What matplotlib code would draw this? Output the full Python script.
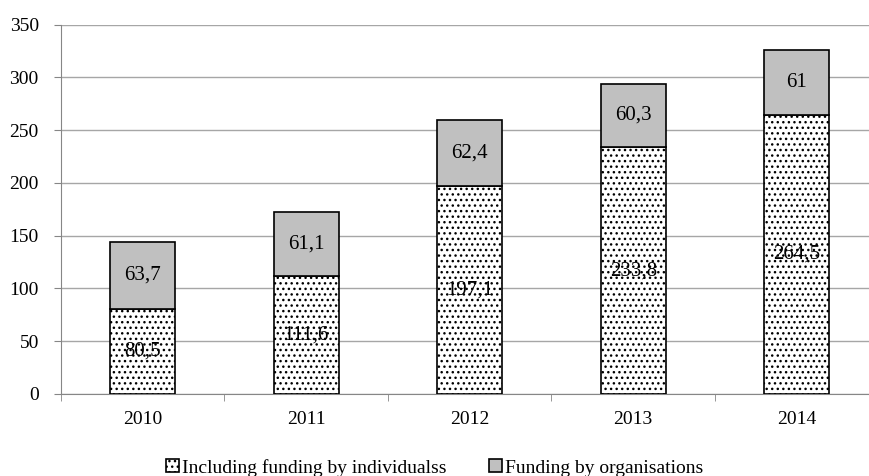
import matplotlib.pyplot as plt
import numpy as np

plt.rcParams['font.family'] = ['Liberation Serif', 'DejaVu Serif']
plt.rcParams['hatch.linewidth'] = 1.0

# --- Data ---
years = ['2010', '2011', '2012', '2013', '2014']
individuals = [80.5, 111.6, 197.1, 233.8, 264.5]
organisations = [63.7, 61.1, 62.4, 60.3, 61.0]
ind_labels = ['80,5', '111,6', '197,1', '233,8', '264,5']
org_labels = ['63,7', '61,1', '62,4', '60,3', '61']

fig = plt.figure(figsize=(8.69, 4.76), dpi=100)
# plot area runs past the right edge of the figure, as in the original
ax = fig.add_axes([0.0702, 0.1723, 0.9407, 0.776])

x = np.arange(len(years))
w = 0.40
b1 = ax.bar(x, individuals, w, color='white', edgecolor='black', hatch='...',
            linewidth=1.2, label='Including funding by individualss', zorder=3)
b2 = ax.bar(x, organisations, w, bottom=individuals, color='#c0c0c0', edgecolor='black',
            linewidth=1.2, label='Funding by organisations', zorder=3)

for i in range(len(years)):
    ax.text(x[i], individuals[i] / 2, ind_labels[i], ha='center', va='center',
            fontsize=15, zorder=4)
    ax.text(x[i], individuals[i] + organisations[i] / 2, org_labels[i],
            ha='center', va='center', fontsize=15, zorder=4)

ax.set_ylim(0, 350)
ax.set_yticks(range(0, 351, 50))
ax.set_xlim(-0.5, len(years) - 0.5)
ax.set_xticks(x)
ax.set_xticklabels(years)
ax.set_xticks(np.arange(-0.5, len(years), 1), minor=True)
ax.tick_params(axis='x', which='major', length=0, labelsize=14, pad=12)
ax.tick_params(axis='x', which='minor', length=5, color='#868686')
ax.tick_params(axis='y', length=5, color='#868686', labelsize=14, pad=11)

ax.grid(axis='y', color='#a6a6a6', linewidth=1, zorder=0)
for s in ['top', 'right']:
    ax.spines[s].set_visible(False)
for s in ['left', 'bottom']:
    ax.spines[s].set_color('#868686')

fig.legend(handles=[b1, b2], loc='lower center', bbox_to_anchor=(0.5, -0.038), ncol=2,
           frameon=False, fontsize=14, handlelength=0.65, handleheight=0.65,
           handletextpad=0.15, columnspacing=2.2)

fig.savefig('out.png', dpi=100)
